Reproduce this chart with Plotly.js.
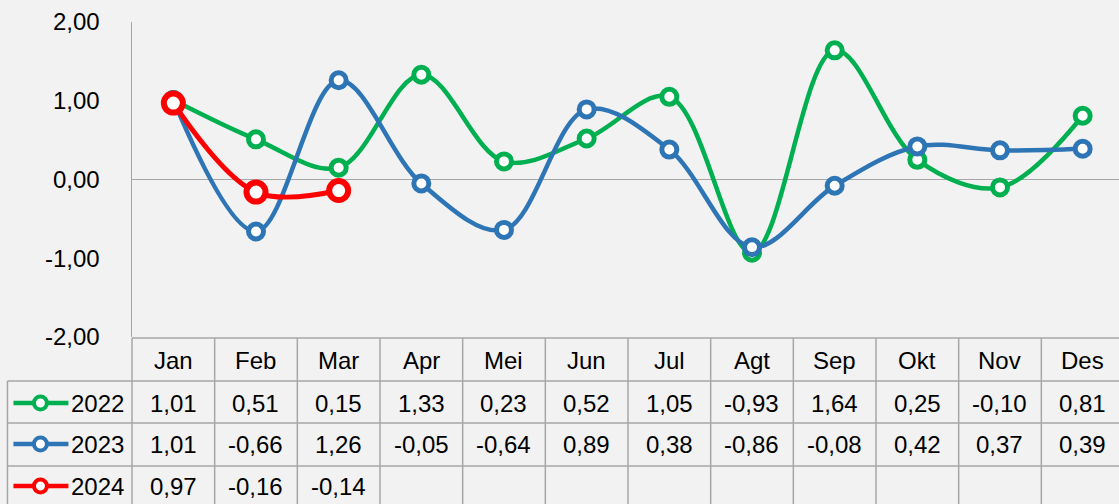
<!DOCTYPE html>
<html>
<head>
<meta charset="utf-8">
<script src="https://cdn.plot.ly/plotly-3.0.1.min.js"></script>
<style>
  html, body { margin: 0; padding: 0; background: #f2f2f2; overflow: hidden; }
  #chart { width: 1119px; height: 504px; }
</style>
</head>
<body>
<div id="chart"></div>
<script>
const months = ['Jan', 'Feb', 'Mar', 'Apr', 'Mei', 'Jun', 'Jul', 'Agt', 'Sep', 'Okt', 'Nov', 'Des'];
const years = ['2022', '2023', '2024'];
const values2022 = [1.01, 0.51, 0.15, 1.33, 0.23, 0.52, 1.05, -0.93, 1.64, 0.25, -0.10, 0.81];
const values2023 = [1.01, -0.66, 1.26, -0.05, -0.64, 0.89, 0.38, -0.86, -0.08, 0.42, 0.37, 0.39];
const values2024 = [0.97, -0.16, -0.14];
const yTicks = [-2, -1, 0, 1, 2];

const series = [values2022, values2023, values2024];
const colors = ['#00b050', '#2e75b6', '#ff0000'];
const lineWidths = [4.5, 4.5, 5];
const markerSizes = [15, 15, 19];
const markerLines = [5, 5, 6];

const FONT = '"Liberation Sans Narrow", "Arial Narrow", "Liberation Sans", Arial, sans-serif';
const FONT_SIZE = 24;
const W = 1119, H = 504;
const marginL = 131.6, marginT = 22, marginB = 167;
const xRange = [-0.5, -0.5 + (W - marginL) / 82.7];
const plotW = W - marginL, plotH = H - marginT - marginB;

// pixel helpers for the table drawn under the plot area
const px2paperX = px => (px - marginL) / plotW;
const px2paperY = py => (H - marginB - py) / plotH;
const cat2paperX = i => (i - xRange[0]) / (xRange[1] - xRange[0]);

// Excel style: comma decimals, plain hyphen for minus
const fmt = v => v.toFixed(2).replace('.', ',');

const traces = series.map((vals, s) => ({
    type: 'scatter',
    mode: 'lines+markers',
    x: months.slice(0, vals.length),
    y: vals,
    name: years[s],
    line: { color: colors[s], width: lineWidths[s], shape: 'spline', smoothing: 1 },
    marker: {
        symbol: 'circle',
        size: markerSizes[s],
        color: '#ffffff',
        line: { color: colors[s], width: markerLines[s] }
    },
    cliponaxis: false,
    hoverinfo: 'x+y'
}));

const lineColor = '#a6a6a6';
const shapes = [];
const annotations = [];

const rowLines = [338, 381, 423, 466, 505];
const rowCenters = [360, 403, 444, 486];

// table horizontal lines
shapes.push({ type: 'line', xref: 'paper', yref: 'paper', x0: 0, x1: 1,
    y0: px2paperY(rowLines[0]), y1: px2paperY(rowLines[0]), line: { color: lineColor, width: 1.5 } });
for (let r = 1; r < rowLines.length; r++) {
    shapes.push({ type: 'line', xref: 'paper', yref: 'paper', x0: px2paperX(7), x1: 1,
        y0: px2paperY(rowLines[r]), y1: px2paperY(rowLines[r]), line: { color: lineColor, width: 1.5 } });
}
// vertical lines: axis extension, column separators, legend column left edge
shapes.push({ type: 'line', xref: 'paper', yref: 'paper', x0: 0, x1: 0,
    y0: px2paperY(rowLines[0]), y1: px2paperY(rowLines[4]), line: { color: lineColor, width: 1.5 } });
for (let i = 0; i < months.length - 1; i++) {
    const xp = cat2paperX(i + 0.5);
    shapes.push({ type: 'line', xref: 'paper', yref: 'paper', x0: xp, x1: xp,
        y0: px2paperY(rowLines[0]), y1: px2paperY(rowLines[4]), line: { color: lineColor, width: 1.5 } });
}
shapes.push({ type: 'line', xref: 'paper', yref: 'paper', x0: px2paperX(7), x1: px2paperX(7),
    y0: px2paperY(rowLines[1]), y1: px2paperY(rowLines[4]), line: { color: lineColor, width: 1.5 } });

// month header
months.forEach((m, i) => {
    annotations.push({ x: cat2paperX(i), y: px2paperY(rowCenters[0]), xref: 'paper', yref: 'paper',
        text: m, showarrow: false, xanchor: 'center', yanchor: 'middle',
        font: { family: FONT, size: FONT_SIZE, color: '#000' } });
});

// value rows + legend keys
series.forEach((vals, s) => {
    const yc = px2paperY(rowCenters[s + 1]);
    vals.forEach((v, i) => {
        annotations.push({ x: cat2paperX(i), y: yc, xref: 'paper', yref: 'paper',
            text: fmt(v), showarrow: false, xanchor: 'center', yanchor: 'middle',
            font: { family: FONT, size: FONT_SIZE, color: '#000' } });
    });
    shapes.push({ type: 'line', xref: 'paper', yref: 'paper', x0: px2paperX(13), x1: px2paperX(68),
        y0: yc, y1: yc, line: { color: colors[s], width: 4.5 } });
    const ry = 6.5 / plotH;
    shapes.push({ type: 'circle', xref: 'paper', yref: 'paper',
        x0: px2paperX(40) - 6.5 / plotW, x1: px2paperX(40) + 6.5 / plotW, y0: yc - ry, y1: yc + ry,
        fillcolor: '#ffffff', line: { color: colors[s], width: 4 } });
    annotations.push({ x: px2paperX(126), y: yc, xref: 'paper', yref: 'paper',
        text: years[s], showarrow: false, xanchor: 'right', yanchor: 'middle',
        font: { family: FONT, size: FONT_SIZE, color: '#000' } });
});

const layout = {
    width: W,
    height: H,
    margin: { l: marginL, r: 0, t: marginT, b: marginB, pad: 0 },
    paper_bgcolor: '#f2f2f2',
    plot_bgcolor: '#f2f2f2',
    separators: ',.',
    showlegend: false,
    xaxis: {
        type: 'category',
        range: xRange,
        showticklabels: false,
        showgrid: false,
        zeroline: false,
        showline: false,
        ticks: ''
    },
    yaxis: {
        range: [-2, 2],
        tickvals: yTicks,
        ticktext: yTicks.map(fmt),
        showgrid: false,
        zeroline: true,
        zerolinecolor: '#a6a6a6',
        zerolinewidth: 1.5,
        showline: true,
        linecolor: '#a6a6a6',
        linewidth: 1.5,
        ticks: '',
        ticklabelstandoff: 26,
        tickfont: { family: FONT, size: FONT_SIZE, color: '#000' }
    },
    shapes: shapes,
    annotations: annotations
};

Plotly.newPlot('chart', traces, layout, { displayModeBar: false, staticPlot: true });
</script>
</body>
</html>
